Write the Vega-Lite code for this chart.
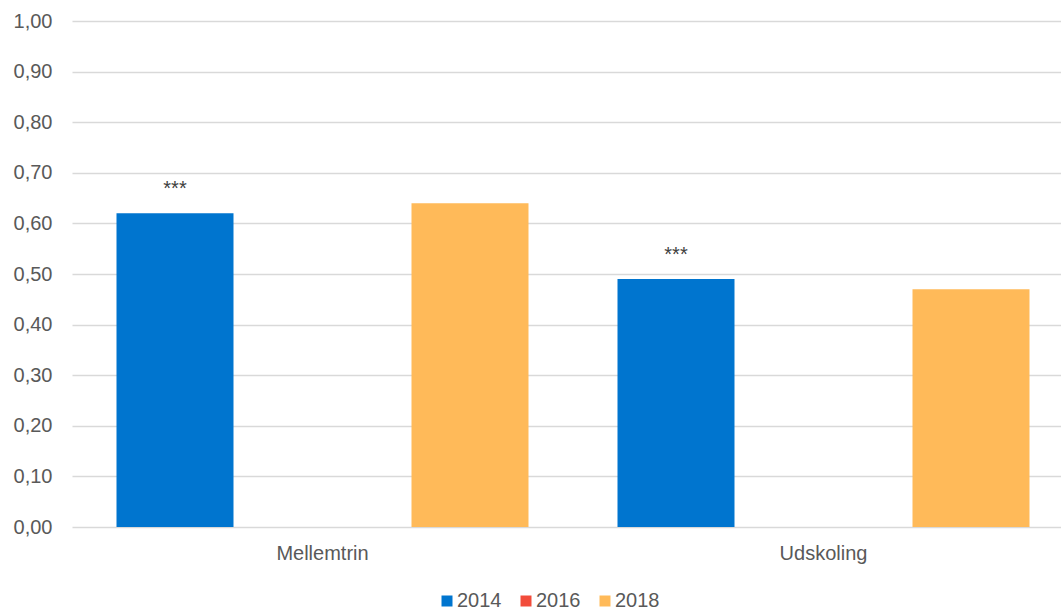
{
  "$schema": "https://vega.github.io/schema/vega-lite/v6.json",
  "width": 989,
  "height": 506,
  "autosize": "none",
  "padding": {"left": 72, "top": 21, "right": 0, "bottom": 83},
  "background": "white",
  "data": {
    "values": [
      {"trin": "Mellemtrin", "year": "2014", "value": 0.62, "sig": "***"},
      {"trin": "Mellemtrin", "year": "2018", "value": 0.64, "sig": ""},
      {"trin": "Udskoling", "year": "2014", "value": 0.49, "sig": "***"},
      {"trin": "Udskoling", "year": "2018", "value": 0.47, "sig": ""}
    ]
  },
  "encoding": {
    "x": {
      "field": "trin", "type": "nominal", "sort": ["Mellemtrin", "Udskoling"],
      "scale": {"paddingInner": 0, "paddingOuter": 0, "range": [0, 1002]},
      "axis": {"title": null, "labelAngle": 0, "domain": false, "ticks": false, "labelPadding": 16, "labelFontSize": 20, "labelColor": "#595959", "labelFont": "Liberation Sans"}
    },
    "xOffset": {
      "field": "year", "type": "nominal",
      "scale": {"domain": ["2014", "2016", "2018"], "paddingInner": 0.2068, "paddingOuter": 0.3017}
    },
    "y": {
      "field": "value", "type": "quantitative",
      "scale": {"domain": [0, 1], "nice": false},
      "axis": {"title": null, "values": [0, 0.1, 0.2, 0.3, 0.4, 0.5, 0.6, 0.7, 0.8, 0.9, 1.0], "labelOverlap": false, "labelExpr": "replace(format(datum.value, '.2f'), '.', ',')", "domain": false, "ticks": false, "labelPadding": 20, "labelFontSize": 20, "labelColor": "#595959", "labelFont": "Liberation Sans", "gridColor": "#d9d9d9", "gridWidth": 1.3}
    }
  },
  "layer": [
    {
      "mark": {"type": "bar"},
      "encoding": {
        "color": {
          "field": "year", "type": "nominal",
          "scale": {"domain": ["2014", "2016", "2018"], "range": ["#0075CF", "#F24C3B", "#FFBA59"]},
          "legend": {"title": null, "orient": "none", "legendX": 365, "legendY": 570, "direction": "horizontal", "symbolType": "square", "symbolSize": 121, "symbolStrokeWidth": 0, "labelFontSize": 20, "labelColor": "#595959", "labelFont": "Liberation Sans", "labelOffset": 0, "columnPadding": 14}
        }
      }
    },
    {
      "mark": {"type": "text", "baseline": "alphabetic", "dy": -18, "fontSize": 20, "font": "Liberation Sans", "color": "#404040"},
      "encoding": {"text": {"field": "sig"}}
    }
  ],
  "config": {"view": {"stroke": null}}
}
